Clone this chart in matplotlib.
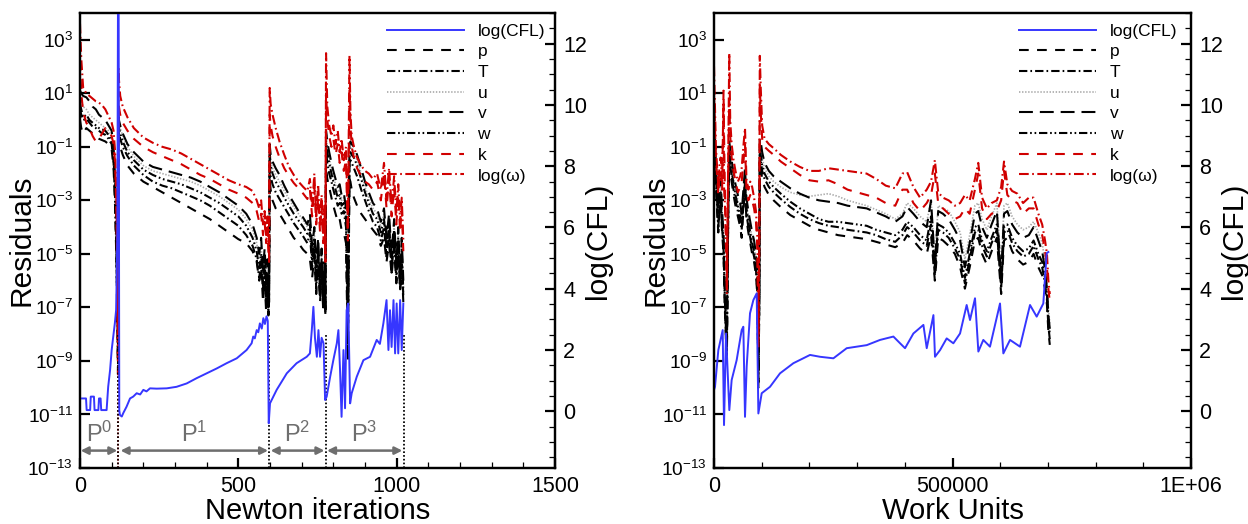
import numpy as np
import matplotlib
matplotlib.use("Agg")
import matplotlib.pyplot as plt
from matplotlib.ticker import MultipleLocator, FixedLocator, FuncFormatter, NullLocator

plt.rcParams['font.family'] = ['Liberation Sans', 'DejaVu Sans']
plt.rcParams['mathtext.fontset'] = 'custom'
plt.rcParams['mathtext.rm'] = 'Liberation Sans'
plt.rcParams['mathtext.it'] = 'Liberation Sans:italic'
plt.rcParams['mathtext.bf'] = 'Liberation Sans:bold'
plt.rcParams['mathtext.default'] = 'regular'
plt.rcParams['lines.scale_dashes'] = False

# ---------------- left panel: Newton iterations (residuals as log10) ----------------
it_x = [0, 4, 10, 20, 30, 40, 50, 60, 70, 80, 90, 100, 106, 111, 115, 118, 120,
        121, 123, 127, 135, 150, 170, 200, 230, 260, 290, 320, 350, 380, 410, 440, 470, 500, 525,
        545, 558, 566, 572, 578, 583, 588, 592, 595, 597,
        599, 602, 608, 618, 630, 645, 660, 675, 690, 705, 718, 726, 733, 740, 746, 752, 758, 763,
        768, 772, 775,
        777, 781, 787, 794, 800, 807, 814, 820, 826, 833, 840, 846, 851, 854, 858, 865, 875, 888,
        900, 912, 925, 938, 950, 960, 968, 976, 984, 992, 999, 1005, 1011, 1016, 1021]

it_p = [0.0, -0.3, -0.5, -0.3, -0.4, -0.5, -0.6, -0.7, -0.75, -0.8, -0.9, -1.1, -1.8, -3.3, -5.3, -7.5, -9.5,
        -0.4, -0.7, -1.0, -1.3, -1.7, -2.0, -2.3, -2.5, -2.7, -2.9, -3.1, -3.3, -3.5, -3.7, -3.95,
        -4.2, -4.45, -4.6, -4.9, -5.3, -6.0, -5.5, -6.8, -6.0, -7.2, -6.4, -7.3, -7.0,
        -2.2, -2.6, -3.0, -3.3, -3.5, -3.8, -4.1, -4.4, -4.6, -4.85, -5.0, -5.2, -5.9, -5.1, -6.5,
        -5.4, -6.8, -5.7, -7.1, -6.2, -7.3,
        -1.8, -2.2, -2.5, -2.9, -3.2, -3.5, -3.8, -3.7, -4.1, -4.2, -4.6, -9.0, -2.2, -2.3, -2.6,
        -2.9, -3.2, -3.5, -3.7, -3.9, -4.1, -4.3, -4.7, -4.4, -5.3, -4.6, -5.8, -4.8, -6.1, -5.0,
        -6.4, -5.4, -6.8]
it_T = [0.4, 0.2, 0.0, 0.05, -0.1, -0.25, -0.3, -0.4, -0.5, -0.55, -0.7, -0.9, -1.6, -3.0, -5.0, -7.0, -9.0,
        -0.2, -0.5, -0.7, -1.0, -1.35, -1.7, -2.05, -2.3, -2.45, -2.55, -2.7, -2.85, -3.0, -3.2, -3.45,
        -3.7, -3.95, -4.3, -4.7, -5.2, -5.9, -5.3, -6.4, -5.6, -6.9, -6.0, -7.1, -6.8,
        -1.6, -2.1, -2.4, -2.7, -2.95, -3.25, -3.55, -3.85, -4.1, -4.35, -4.6, -4.2, -5.5, -4.7, -6.3,
        -5.1, -6.6, -5.5, -7.0, -6.0, -7.2,
        -1.2, -1.6, -2.0, -2.3, -2.6, -2.9, -3.2, -3.1, -3.5, -3.4, -4.0, -8.5, -1.6, -1.5, -1.6,
        -1.8, -2.1, -2.6, -3.0, -3.4, -3.8, -4.0, -4.5, -4.0, -5.1, -4.2, -5.7, -4.4, -6.0, -4.7,
        -6.3, -5.1, -6.6]
it_u = [0.8, 0.7, 0.5, 0.4, 0.2, 0.1, 0.0, -0.1, -0.2, -0.3, -0.4, -0.6, -1.2, -2.6, -4.5, -6.5, -8.5,
        0.1, -0.1, -0.3, -0.6, -1.0, -1.35, -1.7, -1.9, -2.0, -2.1, -2.2, -2.3, -2.45, -2.65, -2.85,
        -3.1, -3.35, -3.7, -4.1, -4.6, -5.2, -4.7, -5.8, -5.0, -6.2, -5.4, -6.6, -6.2,
        -1.0, -1.5, -1.8, -2.05, -2.3, -2.65, -2.95, -3.25, -3.5, -3.75, -4.0, -3.7, -4.9, -4.2, -5.7,
        -4.6, -6.1, -5.0, -6.6, -5.5, -6.9,
        -0.6, -1.0, -1.4, -1.8, -2.1, -2.4, -2.7, -2.6, -3.0, -2.9, -3.5, -7.5, -1.1, -1.0, -1.1,
        -1.2, -1.5, -2.0, -2.5, -2.9, -3.3, -3.5, -4.0, -3.5, -4.6, -3.7, -5.2, -3.9, -5.6, -4.2,
        -6.0, -4.6, -6.2]
it_v = [1.1, 1.0, 0.9, 0.85, 0.7, 0.5, 0.4, 0.2, 0.1, 0.0, -0.2, -0.4, -1.0, -2.2, -4.0, -6.0, -8.0,
        0.3, 0.0, -0.2, -0.5, -0.9, -1.2, -1.55, -1.75, -1.85, -1.95, -2.05, -2.15, -2.3, -2.5, -2.7,
        -2.95, -3.2, -3.5, -3.9, -4.4, -5.0, -4.4, -5.6, -4.8, -6.0, -5.2, -6.5, -6.0,
        -0.9, -1.3, -1.55, -1.8, -2.05, -2.45, -2.8, -3.1, -3.4, -3.65, -3.9, -3.5, -4.7, -4.0, -5.5,
        -4.4, -6.0, -4.8, -6.5, -5.3, -6.8,
        -0.4, -0.8, -1.2, -1.6, -1.9, -2.2, -2.5, -2.4, -2.8, -2.7, -3.3, -7.0, -0.9, -0.8, -0.9,
        -1.0, -1.3, -1.8, -2.3, -2.7, -3.1, -3.3, -3.8, -3.3, -4.4, -3.5, -5.0, -3.7, -5.4, -4.0,
        -5.8, -4.4, -6.0]
it_w = [0.6, 0.4, 0.1, 0.2, 0.0, -0.1, -0.2, -0.3, -0.35, -0.4, -0.55, -0.8, -1.4, -2.8, -4.8, -7.0, -9.0,
        0.0, -0.3, -0.5, -0.8, -1.2, -1.5, -1.85, -2.05, -2.2, -2.3, -2.4, -2.55, -2.7, -2.9, -3.1,
        -3.35, -3.6, -3.95, -4.4, -4.9, -5.6, -5.0, -6.2, -5.3, -6.6, -5.7, -7.0, -6.5,
        -1.2, -1.7, -2.0, -2.3, -2.55, -2.9, -3.2, -3.5, -3.75, -4.0, -4.25, -3.9, -5.2, -4.4, -6.0,
        -4.8, -6.4, -5.2, -6.9, -5.7, -7.1,
        -0.8, -1.2, -1.6, -2.0, -2.3, -2.6, -2.9, -2.8, -3.2, -3.1, -3.7, -8.0, -1.3, -1.2, -1.3,
        -1.4, -1.7, -2.2, -2.7, -3.1, -3.5, -3.7, -4.2, -3.7, -4.8, -3.9, -5.4, -4.1, -5.8, -4.4,
        -6.1, -4.8, -6.4]
it_k = [2.2, 1.0, 0.3, -0.1, -0.3, -0.6, -0.8, -0.7, -0.5, -0.3, -0.4, -0.6, -0.9, -1.6, -3.5, -6.0, -9.5,
        0.8, 0.5, 0.2, -0.1, -0.4, -0.7, -1.0, -1.2, -1.35, -1.5, -1.65, -1.85, -2.05, -2.2, -2.4,
        -2.6, -2.75, -2.9, -3.1, -3.4, -3.8, -3.5, -4.3, -3.8, -4.6, -4.0, -4.9, -5.3,
        0.2, -0.2, -0.6, -1.0, -1.4, -1.8, -2.1, -2.35, -2.55, -2.75, -2.95, -2.6, -3.6, -2.5, -3.9,
        -2.9, -4.2, -3.2, -4.6, -3.6, -5.3,
        1.0, 0.0, -0.6, -1.0, -0.7, -1.3, -0.9, -1.6, -1.2, -1.9, -1.5, -4.5, 1.2, -0.2, -1.0,
        -1.4, -1.8, -2.1, -2.3, -2.4, -2.6, -2.3, -3.0, -2.0, -3.3, -2.2, -3.6, -2.5, -3.9, -2.8,
        -4.2, -3.3, -4.9]
it_om = [3.6, 2.3, 1.2, 1.0, 0.9, 0.8, 0.7, 0.65, 0.55, 0.4, 0.15, -0.1, -0.4, -1.2, -3.0, -5.5, -8.5,
         2.0, 1.5, 0.9, 0.5, 0.1, -0.3, -0.65, -0.85, -1.0, -1.1, -1.25, -1.45, -1.65, -1.85, -2.05,
         -2.25, -2.4, -2.5, -2.65, -3.0, -3.3, -3.0, -3.9, -3.4, -4.3, -3.6, -4.6, -5.0,
         1.2, 0.6, 0.2, -0.3, -0.8, -1.3, -1.75, -2.05, -2.3, -2.5, -2.65, -2.2, -3.3, -2.0, -3.6,
         -2.4, -3.9, -2.8, -4.3, -3.2, -5.0,
         2.5, 0.5, -0.2, -0.6, -0.2, -0.9, -0.4, -1.2, -0.7, -1.5, -1.0, -4.0, 2.4, 0.3, -0.6,
         -1.0, -1.4, -1.7, -1.9, -2.0, -2.2, -2.0, -2.6, -1.6, -2.9, -1.8, -3.2, -2.1, -3.5, -2.4,
         -3.8, -2.9, -4.5]

cfl_it_x = [0, 19, 21, 32, 34, 44, 46, 58, 60, 65, 67, 84, 89, 95, 100, 105, 110, 114, 116, 118,
            120, 122, 124, 126, 132, 137, 147, 158, 168, 179, 190, 200, 210, 221, 242, 274, 305, 337,
            368, 400, 432, 463, 495, 526, 542, 547, 552, 558, 563, 568, 574, 579, 584, 589, 593, 596,
            600, 621, 653, 684, 716, 726, 732, 737, 742, 748, 753, 758, 763, 769, 774,
            779, 790, 800, 811, 816, 821, 826, 832, 837, 842, 847, 853, 858, 874, 895, 916, 937, 947,
            958, 968, 974, 979, 984, 990, 995, 1000, 1005, 1011, 1016, 1021]
cfl_it = [0.42, 0.42, 0.04, 0.04, 0.48, 0.48, 0.04, 0.04, 0.42, 0.42, 0.04, 0.04, 0.80, 1.35, 2.0,
          2.44, 2.87, 3.3, 4.4, 6.0, 13.5, 13.5, 0.04, -0.12, -0.17, -0.05, 0.15, 0.42, 0.48, 0.59,
          0.55, 0.70, 0.65, 0.75, 0.74, 0.75, 0.80, 0.91, 1.08, 1.24, 1.40, 1.57, 1.73, 2.0, 2.22,
          2.44, 2.38, 2.65, 2.58, 2.87, 2.70, 3.04, 2.85, 3.10, 2.95, -0.39,
          0.26, 0.70, 1.24, 1.57, 1.78, 1.89, 2.65, 3.41, 2.40, 1.78, 2.65, 1.78, 2.40, 2.22, 0.37,
          0.48, 1.13, 1.67, 2.22, 2.65, 1.40, -0.18, 2.00, 0.10, 3.30, 3.52, 0.26, 0.59, 1.13, 1.67,
          1.78, 2.33, 2.20, 2.87, 3.63, 2.00, 3.30, 2.10, 3.63, 1.89, 3.52, 1.89, 3.63, 2.00, 3.52]

stage_end = [121, 598, 776, 1022]
stage_span = [(2, 118), (128, 594), (602, 772), (780, 1018)]
stage_name = ['P$^0$', 'P$^1$', 'P$^2$', 'P$^3$']

# ---------------- right panel: work units ----------------
wu_x = [0, 2000, 4000, 7000, 9000, 12000, 14000, 17000, 20000, 21000,
        23000, 25000, 27000, 30000, 32000, 34000, 37000, 41000, 45000, 50000,
        55000, 58000, 62000, 65000, 68000, 72000, 76000, 80000, 84000, 88000,
        91000, 93000, 95000, 96000, 98000, 101000, 106000, 115000, 125000, 140000,
        160000, 180000, 200000, 220000, 240000, 260000, 280000, 300000, 320000, 340000,
        360000, 380000, 395000, 405000, 418000, 432000, 446000, 455000, 463000, 470000,
        480000, 492000, 505000, 516000, 526000, 536000, 547000, 554000, 562000, 572000,
        582000, 593000, 602000, 608000, 615000, 625000, 636000, 648000, 660000, 670000,
        680000, 688000, 694000, 698000, 701000, 704000]

wu_p = [-0.6, -1.6, -2.5, -3.6, -4.2, -3.4, -3.1, -4.2, -5.0, -5.8,
        -7.2, -8.2, -8.8, -3.4, -1.6, -1.9, -2.3, -2.8, -3.2, -3.6,
        -4.0, -4.4, -3.3, -2.6, -3.7, -4.2, -4.6, -5.0, -5.3, -5.8,
        -6.6, -10.0, -7.0, -1.5, -1.8, -2.2, -2.5, -2.8, -3.0, -3.25,
        -3.55, -3.75, -3.95, -4.1, -4.2, -4.3, -4.35, -4.4, -4.45, -4.55,
        -4.65, -4.75, -4.6, -4.3, -4.5, -4.8, -5.0, -4.3, -6.0, -4.4,
        -4.5, -4.7, -5.0, -5.5, -6.3, -5.5, -4.5, -4.4, -5.0, -5.4,
        -4.9, -4.4, -6.5, -4.5, -4.4, -4.9, -5.2, -5.4, -5.3, -5.0,
        -5.5, -5.8, -6.3, -6.9, -7.9, -8.4]
wu_T = [-0.3, -1.4, -2.2, -3.4, -4.0, -3.2, -2.9, -4.0, -4.8, -5.6,
        -7.0, -8.0, -8.6, -3.2, -1.4, -1.7, -2.1, -2.6, -3.0, -3.4,
        -3.8, -4.1, -3.1, -2.4, -3.5, -4.0, -4.4, -4.8, -5.1, -5.6,
        -6.4, -9.8, -6.8, -1.3, -1.5, -1.9, -2.2, -2.5, -2.7, -2.95,
        -3.25, -3.5, -3.7, -3.85, -3.95, -4.0, -4.1, -4.15, -4.2, -4.3,
        -4.45, -4.55, -4.3, -4.0, -4.2, -4.5, -4.7, -3.9, -5.8, -4.1,
        -4.2, -4.4, -4.8, -5.2, -6.1, -5.2, -4.2, -4.1, -4.7, -5.1,
        -4.6, -4.1, -6.3, -4.2, -4.1, -4.6, -4.9, -5.1, -5.0, -4.7,
        -5.2, -5.5, -6.1, -6.7, -7.7, -8.2]
wu_u = [0.2, -1.0, -1.8, -3.0, -3.5, -2.7, -2.4, -3.6, -4.4, -5.2,
        -6.7, -7.6, -8.2, -2.8, -1.0, -1.3, -1.7, -2.2, -2.6, -3.0,
        -3.3, -3.7, -2.7, -2.0, -3.1, -3.6, -4.0, -4.4, -4.7, -5.2,
        -6.0, -9.2, -6.2, -0.9, -1.0, -1.4, -1.8, -2.1, -2.3, -2.5,
        -2.7, -2.8, -2.85, -2.8, -2.75, -2.85, -3.0, -3.1, -3.2, -3.35,
        -3.5, -3.7, -3.5, -3.1, -3.3, -3.6, -3.8, -3.0, -5.2, -3.2,
        -3.3, -3.4, -3.8, -4.2, -5.2, -4.3, -3.2, -3.1, -3.7, -4.1,
        -3.6, -3.1, -5.6, -3.2, -3.1, -3.6, -3.9, -4.1, -4.0, -3.8,
        -4.2, -4.6, -5.3, -6.0, -7.0, -7.6]
wu_v = [0.5, -0.8, -1.6, -2.8, -3.3, -2.5, -2.2, -3.4, -4.2, -5.0,
        -6.5, -7.5, -8.0, -2.5, -0.8, -1.1, -1.5, -2.0, -2.4, -2.8,
        -3.1, -3.5, -2.5, -1.8, -2.9, -3.4, -3.8, -4.2, -4.5, -5.0,
        -5.8, -9.0, -6.0, -0.7, -0.8, -1.2, -1.6, -1.9, -2.1, -2.3,
        -2.55, -2.75, -2.9, -3.0, -3.05, -3.1, -3.2, -3.25, -3.3, -3.45,
        -3.6, -3.8, -3.6, -3.25, -3.5, -3.8, -4.0, -3.0, -5.4, -3.4,
        -3.5, -3.7, -4.1, -4.5, -5.5, -4.6, -3.5, -3.4, -4.0, -4.4,
        -3.9, -3.4, -5.9, -3.5, -3.4, -3.9, -4.2, -4.4, -4.3, -4.0,
        -4.5, -4.9, -5.6, -6.3, -7.3, -7.8]
wu_w = [0.0, -1.2, -2.0, -3.2, -3.8, -3.0, -2.7, -3.8, -4.6, -5.4,
        -6.8, -7.8, -8.4, -3.0, -1.2, -1.5, -1.9, -2.4, -2.8, -3.2,
        -3.6, -3.9, -2.9, -2.2, -3.3, -3.8, -4.2, -4.6, -4.9, -5.4,
        -6.2, -9.5, -6.5, -1.1, -1.3, -1.7, -2.0, -2.3, -2.5, -2.75,
        -3.05, -3.3, -3.5, -3.7, -3.8, -3.8, -3.85, -3.9, -3.95, -4.1,
        -4.2, -4.3, -4.1, -3.8, -4.0, -4.3, -4.5, -3.6, -5.6, -3.9,
        -4.0, -4.2, -4.6, -5.0, -5.9, -5.0, -4.0, -3.9, -4.5, -4.9,
        -4.4, -3.9, -6.1, -4.0, -3.9, -4.4, -4.7, -4.9, -4.8, -4.5,
        -5.0, -5.3, -5.9, -6.5, -7.5, -8.0]
wu_k = [1.0, -0.3, -1.5, -2.2, -2.8, -2.0, -1.9, -2.6, 1.1, -0.5,
        -2.8, -4.0, -6.0, -1.8, 0.8, -0.6, -1.4, -1.9, -2.3, -2.7,
        -2.5, -2.3, -1.5, -0.9, -2.6, -3.0, -2.8, -3.0, -3.3, -3.8,
        -4.8, -8.5, -4.5, 1.3, 0.3, -0.7, -1.0, -1.15, -1.3, -1.55,
        -1.8, -2.05, -2.25, -2.3, -2.25, -2.4, -2.6, -2.7, -2.8, -2.9,
        -3.1, -3.2, -2.6, -2.6, -3.1, -3.4, -3.1, -2.8, -2.0, -3.1,
        -3.3, -3.5, -3.7, -3.6, -3.3, -3.5, -2.6, -2.0, -3.3, -3.7,
        -3.5, -3.4, -3.0, -1.9, -2.8, -3.0, -3.1, -3.5, -3.3, -3.3,
        -3.9, -4.3, -4.9, -5.5, -6.3, -6.8]
wu_om = [2.0, 0.5, -1.0, -1.9, -2.5, -1.6, -1.4, -2.2, 0.6, -2.5,
         -3.2, -4.6, -6.5, -1.0, 2.5, 0.0, -0.9, -1.5, -1.9, -2.3,
         -2.1, -1.8, -0.9, -0.3, -2.2, -2.6, -2.3, -2.5, -2.9, -3.4,
         -4.4, -8.0, -4.0, 2.4, 1.2, -0.2, -0.7, -0.9, -1.05, -1.3,
         -1.55, -1.75, -1.9, -1.9, -1.8, -1.85, -1.9, -1.95, -2.0, -2.2,
         -2.45, -2.55, -2.0, -1.95, -2.5, -2.9, -2.6, -2.3, -1.5, -2.7,
         -2.9, -3.0, -3.2, -3.1, -2.8, -3.0, -2.2, -1.6, -2.9, -3.3,
         -3.1, -3.0, -2.5, -1.55, -2.4, -2.65, -2.75, -3.1, -2.9, -2.9,
         -3.5, -3.9, -4.5, -5.0, -6.0, -6.5]

cfl_wu_x = [0, 2100, 9100, 18200, 21000, 25200, 32100, 37000, 47500, 58000,
            61500, 65000, 68500, 75500, 82500, 89500, 93000, 100000, 117400, 138400,
            166400, 201300, 222300, 250300, 278200, 320200, 348100, 376100, 390100, 400500,
            418000, 439000, 446000, 460000, 463300, 474000, 487800, 501800, 515800, 529700,
            536700, 547200, 554200, 564600, 578600, 599600, 606600, 620600, 641500, 662500,
            676500, 690400, 697400, 701000]
cfl_wu = [0.7, 0.8, 2.0, 2.65, -0.45, 2.54, 0.04, 1.02, 1.67, 2.65,
          2.76, -0.18, 1.46, 3.2, 3.63, 3.85, -0.07, 0.59, 0.80, 1.24,
          1.57, 1.84, 1.78, 1.73, 2.06, 2.16, 2.33, 2.44, 2.22, 2.06,
          2.54, 2.82, 2.06, 3.14, 1.78, 2.0, 2.38, 2.22, 2.54, 3.47,
          2.98, 3.69, 1.95, 2.33, 2.11, 3.52, 1.89, 2.33, 2.11, 3.47,
          3.09, 3.52, 5.16, 5.2]

# ---------------- styling ----------------
blue = '#3636ff'
red = '#d00000'
styles = {
    'p': dict(color='k', lw=1.5, dashes=(7, 6)),
    'T': dict(color='k', lw=1.5, dashes=(6, 2.2, 1.2, 2.2)),
    'u': dict(color='#a8a8a8', lw=1.2, dashes=(1, 1.2)),
    'v': dict(color='k', lw=1.5, dashes=(10, 5)),
    'w': dict(color='k', lw=1.5, dashes=(6, 2, 1.2, 2, 1.2, 2)),
    'k': dict(color=red, lw=1.5, dashes=(7, 6)),
    'log(ω)': dict(color=red, lw=1.5, dashes=(7, 2.5, 1.2, 2.5)),
}
draw_order = ['u', 'p', 'T', 'v', 'w', 'k', 'log(ω)']
legend_order = ['p', 'T', 'u', 'v', 'w', 'k', 'log(ω)']

fig = plt.figure(figsize=(12.48, 5.24), dpi=100)


def log_fmt(v, pos):
    return '$10^{%d}$' % int(round(np.log10(v)))


def panel(rect, x, res, cx, cy, xlabel, xticks, xticklabels, xminor, leg_x):
    ax = fig.add_axes(rect)
    lines = {}
    for name in draw_order:
        ln, = ax.plot(x, 10.0 ** np.asarray(res[name]), label=name, **styles[name])
        lines[name] = ln
    ax.set_yscale('log')
    ax.set_ylim(1e-13, 1e4)
    ax.set_xlim(xticks[0], xticks[-1])
    ax.yaxis.set_major_locator(FixedLocator([10.0 ** e for e in range(-13, 4, 2)]))
    ax.yaxis.set_major_formatter(FuncFormatter(log_fmt))
    ax.yaxis.set_minor_locator(NullLocator())
    ax.set_xticks(xticks, xticklabels)
    ax.xaxis.set_minor_locator(MultipleLocator(xminor))
    ax.tick_params(which='major', direction='in', length=7, width=1.6, pad=6)
    ax.tick_params(which='minor', direction='in', length=4, width=0.9)
    ax.tick_params(axis='x', labelsize=15.5, top=False, which='both')
    ax.tick_params(axis='y', labelsize=13.8, right=False, which='both', pad=5)
    for s in ax.spines.values():
        s.set_linewidth(1.6)
    ax.set_xlabel(xlabel, fontsize=21)
    ax.xaxis.set_label_coords(0.5, -0.063)
    ax.set_ylabel('Residuals', fontsize=21.5)
    ax.yaxis.set_label_coords(-0.094, 0.5)

    axc = ax.twinx()
    cl, = axc.plot(cx, cy, color=blue, lw=1.4, label='log(CFL)')
    axc.set_ylim(-1.85, 13)
    axc.yaxis.set_major_locator(MultipleLocator(2))
    axc.yaxis.set_minor_locator(MultipleLocator(0.5))
    axc.tick_params(which='major', direction='in', length=7, width=1.6, pad=6, labelsize=15.5)
    axc.tick_params(which='minor', direction='in', length=4, width=0.9)
    for s in axc.spines.values():
        s.set_linewidth(1.6)
    axc.set_ylabel('log(CFL)', fontsize=21.5)
    axc.yaxis.set_label_coords(1.06, 0.5)

    handles = [cl] + [lines[n] for n in legend_order]
    axc.legend(handles, [h.get_label() for h in handles], loc='upper right',
               bbox_to_anchor=(leg_x, 0.977), frameon=False, fontsize=12.5,
               handlelength=4.4, handletextpad=0.8, labelspacing=0.32,
               borderpad=0, borderaxespad=0)
    return ax, axc


ax1, ax1c = panel([80 / 1248, 1 - 468 / 524, 475 / 1248, 455 / 524], it_x,
                  {'p': it_p, 'T': it_T, 'u': it_u, 'v': it_v, 'w': it_w, 'k': it_k, 'log(ω)': it_om},
                  cfl_it_x, cfl_it, 'Newton iterations', [0, 500, 1000, 1500],
                  ['0', '500', '1000', '1500'], 100, 0.979)

# stage boundaries and labels
ax1.vlines([119], 1e-13, 1e-5, colors=red, linestyles=(0, (1.2, 1.5)), lw=1.3)
ax1.vlines(stage_end, 1e-13, 1e-8, colors='k', linestyles=(0, (1.2, 1.5)), lw=1.3)
for (a, b), name in zip(stage_span, stage_name):
    ax1.annotate('', xy=(b, 10 ** -12.35), xytext=(a, 10 ** -12.35),
                 arrowprops=dict(arrowstyle='<|-|>', color='#6e6e6e', lw=1.8,
                                 mutation_scale=11, shrinkA=0, shrinkB=0))
    ax1.text((a + b) / 2, 10 ** -11.75, name, color='#6e6e6e', fontsize=17,
             ha='center', va='center')

ax2, ax2c = panel([714 / 1248, 1 - 468 / 524, 477 / 1248, 455 / 524], wu_x,
                  {'p': wu_p, 'T': wu_T, 'u': wu_u, 'v': wu_v, 'w': wu_w, 'k': wu_k, 'log(ω)': wu_om},
                  cfl_wu_x, cfl_wu, 'Work Units', [0, 500000, 1000000],
                  ['0', '500000', '1E+06'], 100000, 0.971)

fig.savefig('out.png', dpi=100)
